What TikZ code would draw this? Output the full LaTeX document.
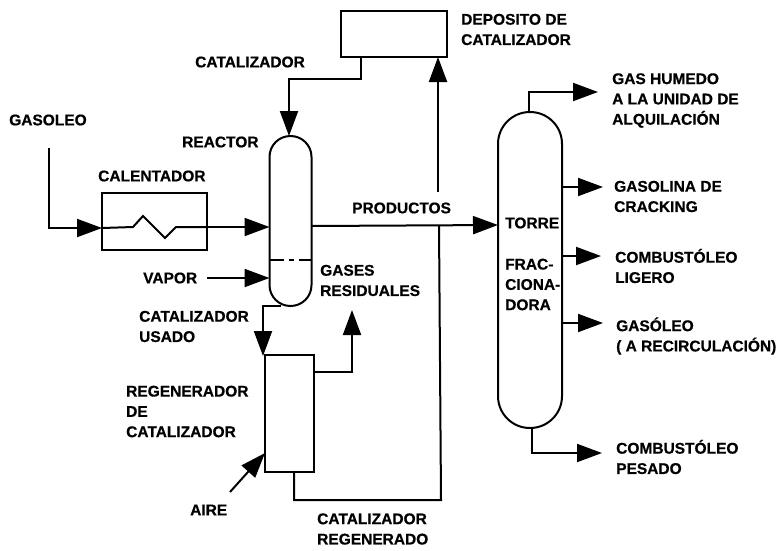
\documentclass[tikz,border=0pt]{standalone}
\usepackage{fontspec}
\setmainfont[BoldFeatures={FakeBold=0.6}]{Liberation Sans}
\usetikzlibrary{arrows.meta}
\tikzset{
  pipe/.style={line width=2pt,line join=miter},
  flow/.style={pipe,-{Triangle[length=25pt,width=18pt]}},
  unit/.style={draw,line width=2pt,inner sep=0pt,outer sep=0pt,fill=none},
  lbl/.style={anchor=west,inner sep=0pt,align=left,font=\fontsize{15.5}{20.3}\selectfont\bfseries},
}
\begin{document}
\begin{tikzpicture}[x=1pt,y=-1pt]
\useasboundingbox (0,0) rectangle (781,550);
% units
\node[unit,minimum width=106pt,minimum height=46pt] (dep) at (394,34) {};
\node[unit,minimum width=105pt,minimum height=57pt] (cal) at (154.5,221.5) {};
\node[unit,minimum width=42pt,minimum height=170pt,rounded corners=20.9pt] (rea) at (290.5,221) {};
\node[unit,minimum width=49pt,minimum height=117pt] (reg) at (289.5,413.5) {};
\node[unit,minimum width=64pt,minimum height=316pt,rounded corners=31.9pt] (tor) at (530,270) {};
% free ends
\coordinate (gasIn) at (49,148);
\coordinate (gasCorner) at (49,228);
\coordinate (calIn) at (cal.west |- gasCorner);
\coordinate (z0) at (133,227);
\coordinate (z1) at (143,216);
\coordinate (z2) at (165,238);
\coordinate (z3) at (176,227);
\coordinate (calOut) at (cal.east |- z3);
\coordinate (reaIn) at (rea.west |- z3);
\coordinate (calStart) at (361,57);
\coordinate (calC1) at (361,79);
\coordinate (calC2) at (289,79);
\coordinate (calTip) at (289,136);
\coordinate (vapIn) at (207,278);
\coordinate (reaSteam) at (rea.west |- vapIn);
\coordinate (reaBot) at (281,306);
\coordinate (usedC) at (263,306);
\coordinate (usedEnd) at (263,356);
\coordinate (gasR) at (314,372);
\coordinate (gasC) at (352,372);
\coordinate (gasTip) at (352,310);
\coordinate (airIn) at (230,492);
\coordinate (airTip) at (265,453);
\coordinate (regOut) at (294,472);
\coordinate (retC1) at (294,500);
\coordinate (retC2) at (441,500);
\coordinate (retJ) at (439,225);
\coordinate (upSt) at (438,192);
\coordinate (upTip) at (438,57);
\coordinate (prOut) at (311,226);
\coordinate (prIn) at (498,225);
\coordinate (d1) at (270,260);
\coordinate (d2) at (311,260);
\coordinate (t1) at (529,112);
\coordinate (t1c) at (529,92);
\coordinate (t1e) at (598,92);
\coordinate (t2) at (561,187);
\coordinate (t2e) at (603,187);
\coordinate (t3) at (561,256);
\coordinate (t3e) at (601,256);
\coordinate (t4) at (562,323);
\coordinate (t4e) at (603,323);
\coordinate (t5) at (532,428);
\coordinate (t5c) at (532,453);
\coordinate (t5e) at (602,453);
% connectors
\draw[flow] (gasIn) -- (gasCorner) -- (calIn);
\draw[pipe] (calIn) -- (z0) -- (z1) -- (z2) -- (z3) -- (calOut);
\draw[flow] (calOut) -- (reaIn);
\draw[flow] (calStart) -- (calC1) -- (calC2) -- (calTip);
\draw[flow] (vapIn) -- (reaSteam);
\draw[pipe,dash pattern=on 14pt off 5pt on 5pt off 5pt on 14pt] (d1) -- (d2);
\draw[flow] (reaBot) -- (usedC) -- (usedEnd);
\draw[flow] (gasR) -- (gasC) -- (gasTip);
\draw[flow] (airIn) -- (airTip);
\draw[pipe] (regOut) -- (retC1) -- (retC2) -- (retJ);
\draw[flow] (upSt) -- (upTip);
\draw[flow] (prOut) -- (prIn);
\draw[flow] (t1) -- (t1c) -- (t1e);
\draw[flow] (t2) -- (t2e);
\draw[flow] (t3) -- (t3e);
\draw[flow] (t4) -- (t4e);
\draw[flow] (t5) -- (t5c) -- (t5e);
% labels
\node[lbl] (l1) at (9,120) {GASOLEO};
\node[lbl] (l2) at (195,62) {CATALIZADOR};
\node[lbl] (l3) at (182,142) {REACTOR};
\node[lbl] (l4) at (98,176) {CALENTADOR};
\node[lbl] (l5) at (352,208) {PRODUCTOS};
\node[lbl] (l6) at (143,278) {VAPOR};
\node[lbl] (l7) at (320,280.5) {GASES\\RESIDUALES};
\node[lbl] (l8) at (139,326.5) {CATALIZADOR\\USADO};
\node[lbl] (l9) at (126,411.5) {REGENERADOR\\DE\\CATALIZADOR};
\node[lbl] (l10) at (190,510) {AIRE};
\node[lbl] (l11) at (317,529) {CATALIZADOR\\REGENERADO};
\node[lbl] (l12) at (461,29.5) {DEPOSITO DE\\CATALIZADOR};
\node[lbl] (l13) at (612,100.5) {GAS HUMEDO\\A LA UNIDAD DE\\ALQUILACIÓN};
\node[lbl] (l14) at (614,196.5) {GASOLINA DE\\CRACKING};
\node[lbl] (l15) at (615,266) {COMBUSTÓLEO\\LIGERO};
\node[lbl] (l16) at (616,336) {GASÓLEO\\( A RECIRCULACIÓN)};
\node[lbl] (l17) at (616,457) {COMBUSTÓLEO\\PESADO};
\node[lbl] (l18) at (505,223) {TORRE};
\node[lbl] (l19) at (505,284.5) {FRAC-\\CIONA-\\DORA};
\end{tikzpicture}
\end{document}
